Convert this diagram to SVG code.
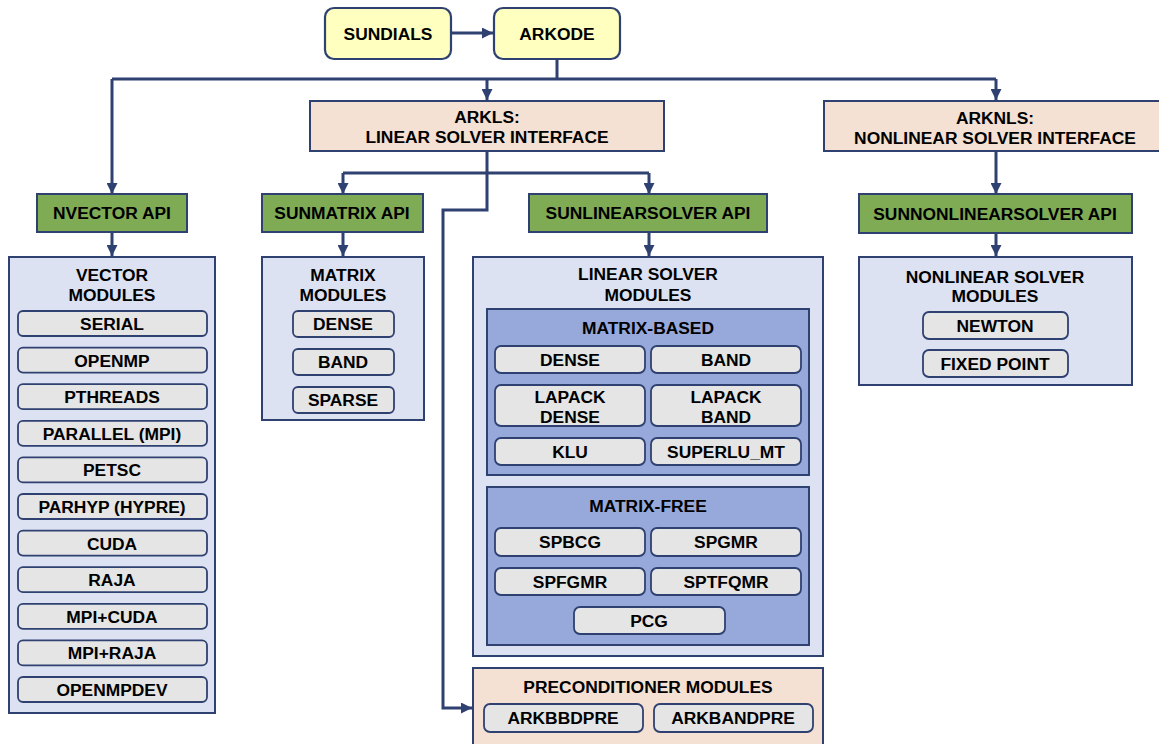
<svg xmlns="http://www.w3.org/2000/svg" width="1159" height="744" viewBox="0 0 1159 744">
<defs>
<style>
text{font-family:"Liberation Sans",Arial,sans-serif;font-weight:bold;font-size:17.4px;fill:#000;text-anchor:middle}
.top{fill:#FFFFBF;stroke:#2F4170;stroke-width:2.2}
.iface{fill:#F5E1D4;stroke:#2F4170;stroke-width:2}
.api{fill:#7FAB55;stroke:#2F4170;stroke-width:2}
.mod{fill:#DCE2F2;stroke:#2F4170;stroke-width:2}
.sub{fill:#97A9DA;stroke:#2F4170;stroke-width:2}
.item{fill:#E5E5E5;stroke:#2F4170;stroke-width:1.8}
.c{fill:none;stroke:#2F4170;stroke-width:3}
</style>
<marker id="ah" viewBox="0 0 10 10" refX="10" refY="5" markerWidth="11" markerHeight="11" markerUnits="userSpaceOnUse" orient="auto">
<path d="M0,0 L10,5 L0,10 z" fill="#2F4170"/>
</marker>
</defs>
<rect width="1159" height="744" fill="#fff"/>

<g id="connectors">
<path class="c" d="M451,33 H493" marker-end="url(#ah)"/>
<path class="c" d="M557,59 V79"/>
<path class="c" d="M112,79 H996"/>
<path class="c" d="M487,79 V100" marker-end="url(#ah)"/>
<path class="c" d="M112,79 V194" marker-end="url(#ah)"/>
<path class="c" d="M996,79 V100" marker-end="url(#ah)"/>
<path class="c" d="M487,151 V173"/>
<path class="c" d="M343,173 H649"/>
<path class="c" d="M343,173 V194" marker-end="url(#ah)"/>
<path class="c" d="M649,173 V194" marker-end="url(#ah)"/>
<path class="c" d="M487,173 V210 H443 V708 H472" marker-end="url(#ah)"/>
<path class="c" d="M112,232 V256" marker-end="url(#ah)"/>
<path class="c" d="M343,232 V256" marker-end="url(#ah)"/>
<path class="c" d="M649,232 V256" marker-end="url(#ah)"/>
<path class="c" d="M996,151 V194" marker-end="url(#ah)"/>
<path class="c" d="M996,233 V256" marker-end="url(#ah)"/>
</g>

<g id="sundials"><rect class="top" x="325" y="8" width="126" height="51" rx="9"/><text x="388" y="40">SUNDIALS</text></g>
<g id="arkode"><rect class="top" x="494" y="8" width="126" height="51" rx="9"/><text x="557" y="40">ARKODE</text></g>

<g id="arkls"><rect class="iface" x="310" y="101" width="354" height="50"/><text x="487" y="123">ARKLS:</text><text x="487" y="143">LINEAR SOLVER INTERFACE</text></g>
<g id="arknls"><rect class="iface" x="824" y="101" width="340" height="50"/><text x="995" y="124">ARKNLS:</text><text x="995" y="144">NONLINEAR SOLVER INTERFACE</text></g>

<g id="nvector-api"><rect class="api" x="37" y="194" width="150" height="38"/><text x="112" y="219">NVECTOR API</text></g>
<g id="sunmatrix-api"><rect class="api" x="262" y="194" width="161" height="38"/><text x="342" y="219">SUNMATRIX API</text></g>
<g id="sunlinearsolver-api"><rect class="api" x="529" y="194" width="238" height="38"/><text x="648" y="219">SUNLINEARSOLVER API</text></g>
<g id="sunnonlinearsolver-api"><rect class="api" x="859" y="194" width="273" height="39"/><text x="995" y="220">SUNNONLINEARSOLVER API</text></g>

<g id="vector-modules">
<rect class="mod" x="9" y="257" width="206" height="456"/>
<text x="112" y="281">VECTOR</text><text x="112" y="301">MODULES</text>
<rect class="item" x="18" y="311" width="189" height="25" rx="5"/><text x="112" y="330">SERIAL</text>
<rect class="item" x="18" y="347.6" width="189" height="25" rx="5"/><text x="112" y="366.6">OPENMP</text>
<rect class="item" x="18" y="384.2" width="189" height="25" rx="5"/><text x="112" y="403.2">PTHREADS</text>
<rect class="item" x="18" y="420.8" width="189" height="25" rx="5"/><text x="112" y="439.8">PARALLEL (MPI)</text>
<rect class="item" x="18" y="457.4" width="189" height="25" rx="5"/><text x="112" y="476.4">PETSC</text>
<rect class="item" x="18" y="494" width="189" height="25" rx="5"/><text x="112" y="513">PARHYP (HYPRE)</text>
<rect class="item" x="18" y="530.6" width="189" height="25" rx="5"/><text x="112" y="549.6">CUDA</text>
<rect class="item" x="18" y="567.2" width="189" height="25" rx="5"/><text x="112" y="586.2">RAJA</text>
<rect class="item" x="18" y="603.8" width="189" height="25" rx="5"/><text x="112" y="622.8">MPI+CUDA</text>
<rect class="item" x="18" y="640.4" width="189" height="25" rx="5"/><text x="112" y="659.4">MPI+RAJA</text>
<rect class="item" x="18" y="677" width="189" height="25" rx="5"/><text x="112" y="696">OPENMPDEV</text>
</g>

<g id="matrix-modules">
<rect class="mod" x="262" y="257" width="162" height="163"/>
<text x="343" y="281">MATRIX</text><text x="343" y="301">MODULES</text>
<rect class="item" x="293" y="311" width="101" height="26" rx="5"/><text x="343" y="330">DENSE</text>
<rect class="item" x="293" y="349" width="101" height="26" rx="5"/><text x="343" y="368">BAND</text>
<rect class="item" x="293" y="387" width="101" height="26" rx="5"/><text x="343" y="406">SPARSE</text>
</g>

<g id="linear-solver-modules">
<rect class="mod" x="473" y="257" width="350" height="399"/>
<text x="648" y="280">LINEAR SOLVER</text><text x="648" y="301">MODULES</text>
<g id="matrix-based">
<rect class="sub" x="487" y="309" width="322" height="166"/>
<text x="648" y="334">MATRIX-BASED</text>
<rect class="item" x="495" y="346" width="150" height="27" rx="6"/><text x="570" y="366">DENSE</text>
<rect class="item" x="651" y="346" width="150" height="27" rx="6"/><text x="726" y="366">BAND</text>
<rect class="item" x="495" y="385" width="150" height="41" rx="6"/><text x="570" y="403">LAPACK</text><text x="570" y="423">DENSE</text>
<rect class="item" x="651" y="385" width="150" height="41" rx="6"/><text x="726" y="403">LAPACK</text><text x="726" y="423">BAND</text>
<rect class="item" x="495" y="438" width="150" height="27" rx="6"/><text x="570" y="458">KLU</text>
<rect class="item" x="651" y="438" width="150" height="27" rx="6"/><text x="726" y="458">SUPERLU_MT</text>
</g>
<g id="matrix-free">
<rect class="sub" x="487" y="487" width="322" height="158"/>
<text x="648" y="512">MATRIX-FREE</text>
<rect class="item" x="495" y="528" width="150" height="28" rx="6"/><text x="570" y="548">SPBCG</text>
<rect class="item" x="651" y="528" width="150" height="28" rx="6"/><text x="726" y="548">SPGMR</text>
<rect class="item" x="495" y="568" width="150" height="27" rx="6"/><text x="570" y="588">SPFGMR</text>
<rect class="item" x="651" y="568" width="150" height="27" rx="6"/><text x="726" y="588">SPTFQMR</text>
<rect class="item" x="574" y="607" width="151" height="27" rx="6"/><text x="649" y="627">PCG</text>
</g>
</g>

<g id="preconditioner-modules">
<rect class="iface" x="473" y="668" width="350" height="84"/>
<text x="648" y="693">PRECONDITIONER MODULES</text>
<rect class="item" x="484" y="704" width="159" height="28" rx="6"/><text x="563" y="724">ARKBBDPRE</text>
<rect class="item" x="654" y="704" width="159" height="28" rx="6"/><text x="733" y="724">ARKBANDPRE</text>
</g>

<g id="nonlinear-solver-modules">
<rect class="mod" x="859" y="257" width="273" height="128"/>
<text x="995" y="283">NONLINEAR SOLVER</text><text x="995" y="302">MODULES</text>
<rect class="item" x="923" y="312" width="145" height="27" rx="6"/><text x="995" y="332">NEWTON</text>
<rect class="item" x="923" y="350" width="145" height="27" rx="6"/><text x="995" y="370">FIXED POINT</text>
</g>
</svg>
